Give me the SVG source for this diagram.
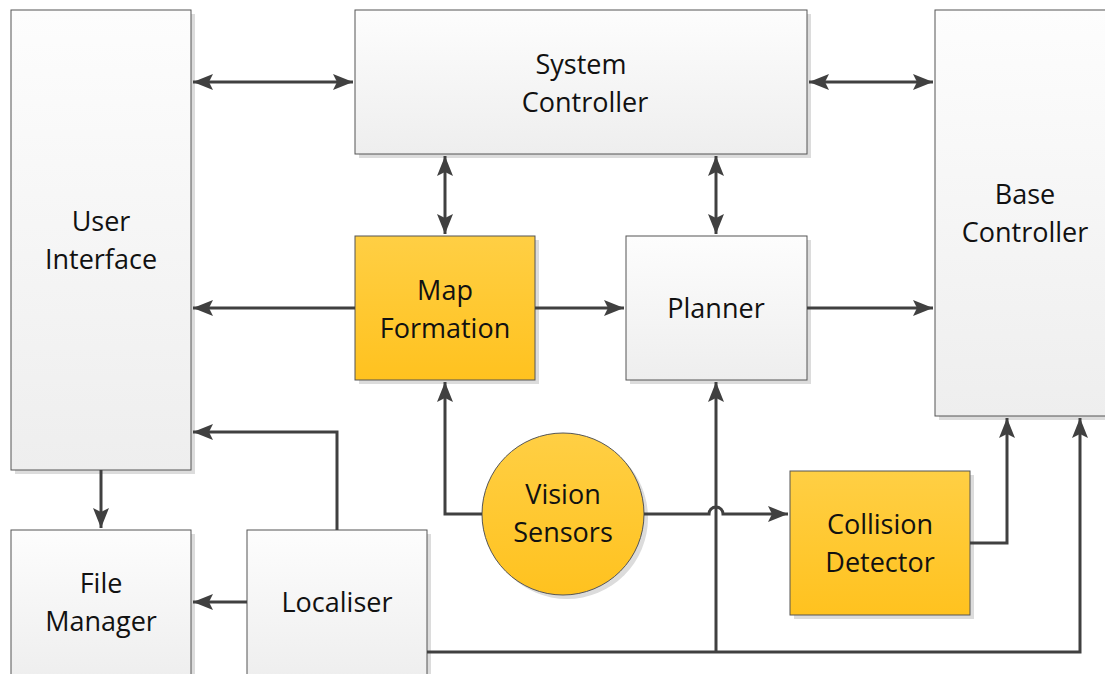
<svg xmlns="http://www.w3.org/2000/svg" width="1105" height="674" viewBox="0 0 1105 674">
<defs>
<linearGradient id="gGray" x1="0" y1="0" x2="0" y2="1"><stop offset="0" stop-color="#fdfdfd"/><stop offset="1" stop-color="#eeeeee"/></linearGradient>
<linearGradient id="gYel" x1="0" y1="0" x2="0" y2="1"><stop offset="0" stop-color="#ffcf44"/><stop offset="1" stop-color="#ffc21f"/></linearGradient>
<marker id="ah" viewBox="0 0 20 16" refX="20" refY="8" markerWidth="20" markerHeight="16" markerUnits="userSpaceOnUse" orient="auto-start-reverse"><path d="M0,0 L20,8 L0,16 L4,8 Z" fill="#404040"/></marker>
</defs>
<style>
.sh{fill:#dcdcdc}
.g{fill:url(#gGray);stroke:#555;stroke-width:1}
.y{fill:url(#gYel);stroke:#555;stroke-width:1}
text{font-family:"Open Sans","Liberation Sans",Arial,sans-serif;font-size:27px;fill:#111;text-anchor:middle}
.c{fill:none;stroke:#404040;stroke-width:3}
</style>
<rect width="1105" height="674" fill="#fff"/>
<g id="ui"><rect class="sh" x="15" y="14" width="180" height="460"/><rect class="g" x="11" y="10" width="180" height="460"/><text x="101" y="231">User</text><text x="101" y="269">Interface</text></g>
<g id="sysctrl"><rect class="sh" x="359" y="14" width="452" height="144"/><rect class="g" x="355" y="10" width="452" height="144"/><text x="581" y="74">System</text><text x="585" y="112">Controller</text></g>
<g id="base"><rect class="sh" x="939" y="14" width="170" height="406"/><rect class="g" x="935" y="10" width="175" height="406"/><text x="1025" y="204">Base</text><text x="1025" y="242">Controller</text></g>
<g id="map"><rect class="sh" x="359" y="240" width="180" height="144"/><rect class="y" x="355" y="236" width="180" height="144"/><text x="445" y="300">Map</text><text x="445" y="338">Formation</text></g>
<g id="planner"><rect class="sh" x="630" y="240" width="181" height="144"/><rect class="g" x="626" y="236" width="181" height="144"/><text x="716" y="318">Planner</text></g>
<g id="vision"><circle class="sh" cx="567" cy="518" r="81"/><circle class="y" cx="563" cy="514" r="81"/><text x="563" y="504">Vision</text><text x="563" y="542">Sensors</text></g>
<g id="collision"><rect class="sh" x="794" y="475" width="180" height="144"/><rect class="y" x="790" y="471" width="180" height="144"/><text x="880" y="534">Collision</text><text x="880" y="572">Detector</text></g>
<g id="filemgr"><rect class="sh" x="15" y="534" width="180" height="150"/><rect class="g" x="11" y="530" width="180" height="150"/><text x="101" y="593">File</text><text x="101" y="631">Manager</text></g>
<g id="localiser"><rect class="sh" x="251" y="534" width="180" height="150"/><rect class="g" x="247" y="530" width="180" height="150"/><text x="337" y="612">Localiser</text></g>
<g id="connectors">
<path class="c" d="M193,82 H353" marker-start="url(#ah)" marker-end="url(#ah)"/>
<path class="c" d="M809,82 H933" marker-start="url(#ah)" marker-end="url(#ah)"/>
<path class="c" d="M445,156 V234" marker-start="url(#ah)" marker-end="url(#ah)"/>
<path class="c" d="M716,156 V234" marker-start="url(#ah)" marker-end="url(#ah)"/>
<path class="c" d="M355,308 H193" marker-end="url(#ah)"/>
<path class="c" d="M535,308 H624" marker-end="url(#ah)"/>
<path class="c" d="M807,308 H933" marker-end="url(#ah)"/>
<path class="c" d="M482,514 H445 V382" marker-end="url(#ah)"/>
<path class="c" d="M644,514 H709 A7,7 0 0 1 723,514 H788" marker-end="url(#ah)"/>
<path class="c" d="M970,543 H1007 V418" marker-end="url(#ah)"/>
<path class="c" d="M101,470 V528" marker-end="url(#ah)"/>
<path class="c" d="M247,602 H193" marker-end="url(#ah)"/>
<path class="c" d="M337,530 V432 H193" marker-end="url(#ah)"/>
<path class="c" d="M427,652 H1080 V418" marker-end="url(#ah)"/>
<path class="c" d="M716,652 V382" marker-end="url(#ah)"/>
</g>
</svg>
